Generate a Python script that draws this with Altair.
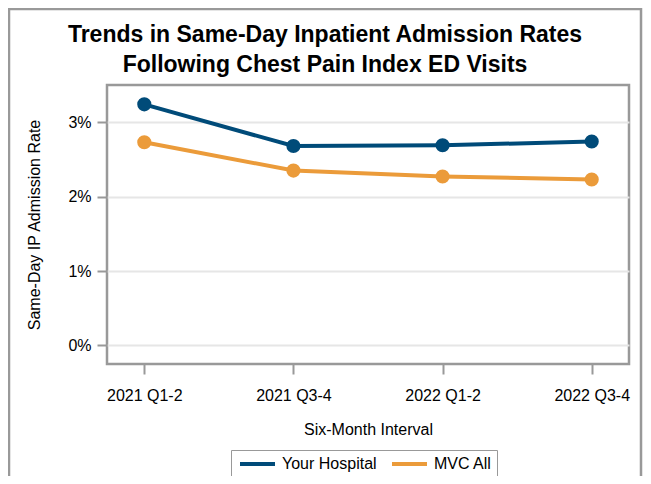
import altair as alt
import pandas as pd

intervals = ["2021 Q1-2", "2021 Q3-4", "2022 Q1-2", "2022 Q3-4"]
your_hospital = [0.0324, 0.0268, 0.0269, 0.0274]
mvc_all = [0.0273, 0.0235, 0.0227, 0.0223]
series_names = ["Your Hospital", "MVC All"]
series_colors = ["#004B79", "#EB9B3A"]
y_ticks = [0, 0.01, 0.02, 0.03]

rows = []
for name, vals in zip(series_names, [your_hospital, mvc_all]):
    for iv, v in zip(intervals, vals):
        rows.append({"Interval": iv, "Series": name, "Rate": v})
df = pd.DataFrame(rows)

FONT = "Liberation Sans"
GREY = "#999999"

x_enc = alt.X(
    "Interval:N",
    sort=intervals,
    scale=alt.Scale(type="point", padding=0.25),
    axis=alt.Axis(
        title="Six-Month Interval",
        labelAngle=0,
        labelFont=FONT,
        labelFontSize=16,
        labelColor="black",
        labelPadding=13,
        titleFont=FONT,
        titleFontSize=16,
        titleFontWeight="normal",
        titleColor="black",
        titlePadding=18,
        tickSize=10,
        tickColor=GREY,
        tickWidth=2,
        domain=False,
        grid=False,
    ),
)
y_enc = alt.Y(
    "Rate:Q",
    scale=alt.Scale(domain=[-0.0025, 0.035], nice=False, zero=False),
    axis=alt.Axis(
        title="Same-Day IP Admission Rate",
        values=y_ticks,
        format=".0%",
        labelFont=FONT,
        labelFontSize=16,
        labelColor="black",
        labelPadding=6,
        titleFont=FONT,
        titleFontSize=16,
        titleFontWeight="normal",
        titleColor="black",
        titlePadding=25,
        tickSize=10,
        tickColor=GREY,
        tickWidth=2,
        domain=False,
        grid=True,
        gridColor="#e6e6e6",
        gridWidth=2,
    ),
)
color_scale = alt.Scale(domain=series_names, range=series_colors)

lines = alt.Chart(df).mark_line(strokeWidth=4).encode(
    x=x_enc,
    y=y_enc,
    color=alt.Color(
        "Series:N",
        scale=color_scale,
        sort=series_names,
        legend=alt.Legend(
            title=None,
            orient="none",
            legendX=124,
            legendY=365,
            direction="horizontal",
            symbolType="M-2.5,0H2.5",
            symbolStrokeWidth=4,
            symbolSize=196,
            symbolOffset=12.5,
            labelFont=FONT,
            labelFontSize=16,
            labelColor="black",
            labelOffset=15.5,
            labelLimit=300,
            columnPadding=7,
            padding=5,
            strokeColor=GREY,
        ),
    ),
)
points = alt.Chart(df).mark_circle(size=200, opacity=1).encode(
    x=x_enc,
    y=y_enc,
    color=alt.Color("Series:N", scale=color_scale, legend=None),
)

frame = alt.Chart(pd.DataFrame({"f": [0]})).mark_rect(
    fill="transparent", stroke=GREY, strokeWidth=2.5, clip=False
).encode(
    x=alt.value(-98), x2=alt.value(534), y=alt.value(-76), y2=alt.value(520)
)

chart = alt.layer(frame, lines, points).properties(
    width=522,
    height=279,
    title=alt.TitleParams(
        text=[
            "Trends in Same-Day Inpatient Admission Rates",
            "Following Chest Pain Index ED Visits",
        ],
        font=FONT,
        fontSize=23,
        fontWeight="bold",
        color="black",
        anchor="middle",
        dx=-43,
        offset=-69,
        lineHeight=30,
    ),
    autosize=alt.AutoSizeParams(type="none"),
    padding={"left": 99, "top": 77, "right": 14, "bottom": 112},
).configure_view(stroke=GREY, strokeWidth=2.5)

chart.save("out.html", embed_options={"renderer": "svg", "actions": False})
